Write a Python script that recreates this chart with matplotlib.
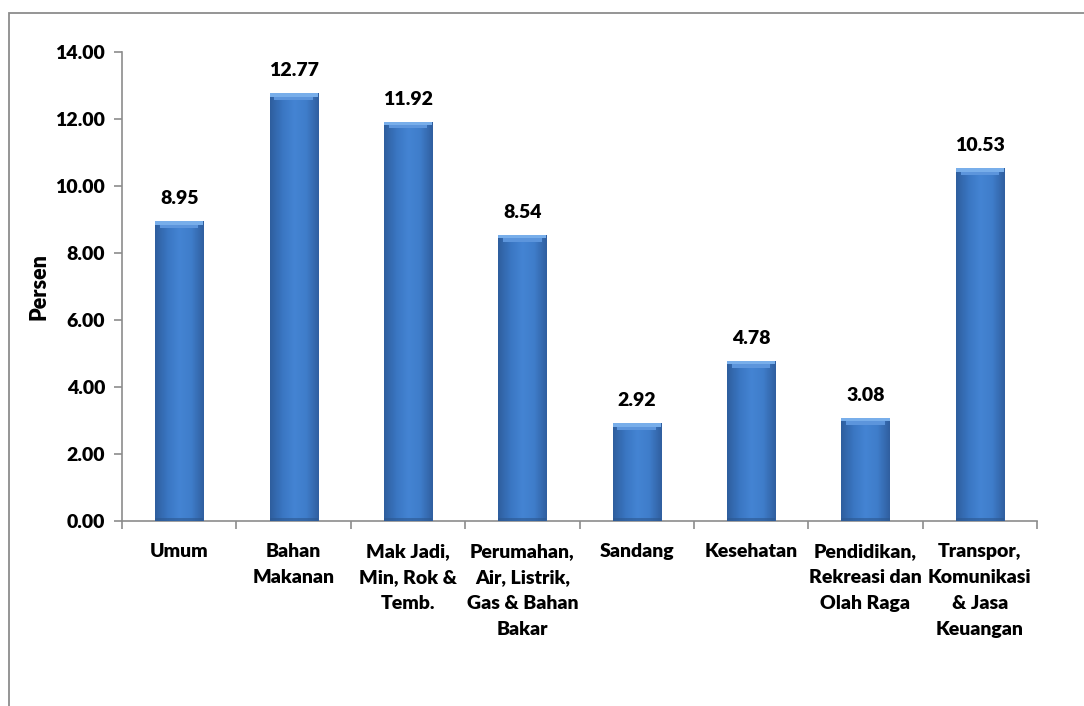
import numpy as np
import matplotlib
matplotlib.use("Agg")
import matplotlib.pyplot as plt
from matplotlib.patches import Rectangle
from matplotlib.colors import LinearSegmentedColormap

# data
categories = [
    "Umum",
    "Bahan\nMakanan",
    "Mak Jadi,\nMin, Rok &\nTemb.",
    "Perumahan,\nAir, Listrik,\nGas & Bahan\nBakar",
    "Sandang",
    "Kesehatan",
    "Pendidikan,\nRekreasi dan\nOlah Raga",
    "Transpor,\nKomunikasi\n& Jasa\nKeuangan",
]
values = [8.95, 12.77, 11.92, 8.54, 2.92, 4.78, 3.08, 10.53]
yticks = [0, 2, 4, 6, 8, 10, 12, 14]

plt.rcParams['font.family'] = ['Lato', 'DejaVu Sans']
W = 'heavy'

fig = plt.figure(figsize=(10.84, 7.06), dpi=100)
ax = fig.add_axes([0.1125, 0.262, 0.8442, 0.6643])

# outer chart border (only top/left visible in the reference)
fig.patches.append(Rectangle((9 / 1084, -0.05), 1.2, 1 - 13 / 706 + 0.05,
                             transform=fig.transFigure, fill=False,
                             edgecolor='#8c8c8c', linewidth=1.3))

x = np.arange(len(values))
width = 0.42
bars = ax.bar(x, values, width=width, color='#3b78c6', zorder=2)

# horizontal shading to give the bars a rounded look
cmap = LinearSegmentedColormap.from_list(
    'barshade', ['#2e5e9e', '#3a76c2', '#4484d3', '#3f7dca', '#305fa0'])
grad = np.linspace(0, 1, 64).reshape(1, -1)
for b in bars:
    x0, w, h = b.get_x(), b.get_width(), b.get_height()
    im = ax.imshow(grad, cmap=cmap, aspect='auto',
                   extent=[x0, x0 + w, 0, h], zorder=3)
    im.set_clip_path(b)
    # lighter bevel on top
    ax.add_patch(Rectangle((x0, h - 0.1), w, 0.1, color='#78aeea',
                           zorder=4, linewidth=0))
    ax.add_patch(Rectangle((x0 + w * 0.1, h - 0.2), w * 0.8, 0.1, color='#5c95dc',
                           zorder=4, linewidth=0))
    ax.add_patch(Rectangle((x0, 0), w, 0.08, color='#2c578f',
                           zorder=4, linewidth=0, alpha=0.6))

for xi, v in zip(x, values):
    ax.text(xi, v + 0.42, f"{v:.2f}", ha='center', va='bottom',
            fontsize=14, fontweight=W)

ax.set_xlim(-0.5, len(values) - 0.5)
ax.set_ylim(0, 14)
ax.set_yticks(yticks)
ax.set_yticklabels([f"{t:.2f}" for t in yticks], fontsize=14, fontweight=W)
ax.set_xticks(x)
ax.set_xticklabels(categories, fontsize=14, fontweight=W, linespacing=1.63,
                   va='top')
ax.set_xticks(np.arange(len(values) + 1) - 0.5, minor=True)
ax.tick_params(axis='x', which='major', length=0, pad=16)
ax.tick_params(axis='x', which='minor', length=6, color='#8c8c8c', width=1.2)
ax.tick_params(axis='y', length=6, color='#8c8c8c', width=1.2, pad=6)

for s in ['top', 'right']:
    ax.spines[s].set_visible(False)
for s in ['left', 'bottom']:
    ax.spines[s].set_color('#8c8c8c')
    ax.spines[s].set_linewidth(1.2)

ax.set_ylabel("Persen", fontsize=15.5, fontweight=W, labelpad=4)

fig.savefig("out.png", dpi=100)
